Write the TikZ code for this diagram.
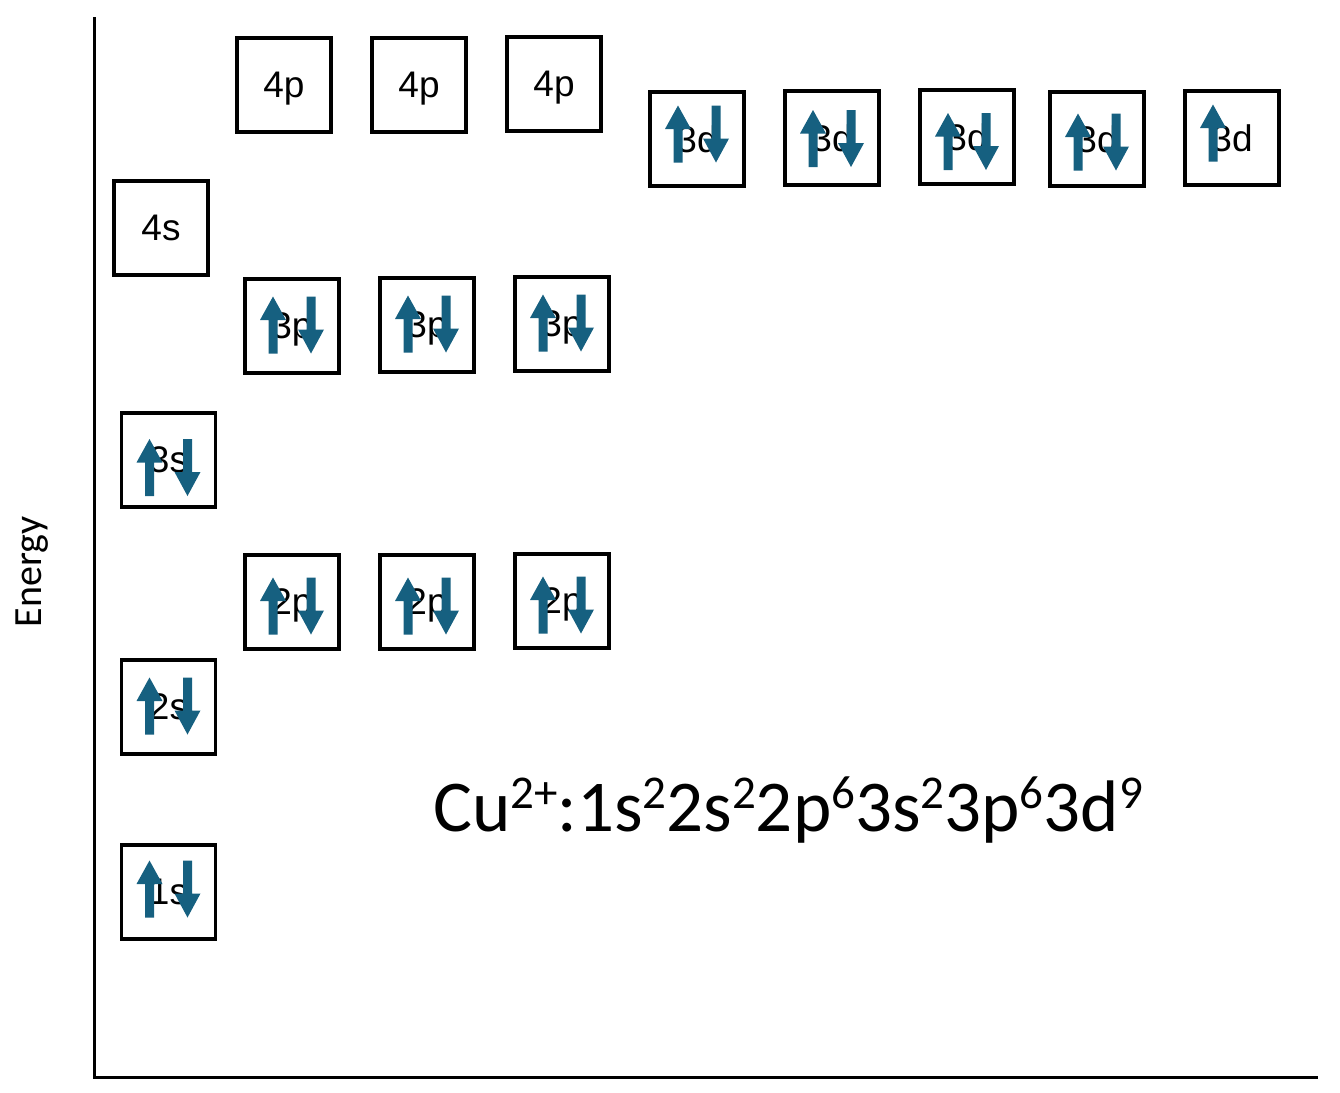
\documentclass[tikz,border=0pt]{standalone}
\usepackage{fontspec}
\setmainfont{Carlito}
\newfontfamily\boxfont{Liberation Sans}
\definecolor{spin}{RGB}{22,96,128}
\tikzset{
  orb/.style={draw, line width=3.2pt, minimum size=94pt, inner sep=0pt, text depth=0pt,
    font=\boxfont\fontsize{37}{39}\selectfont},
  axisline/.style={line width=3pt},
}
\newcommand\spinup[2]{\fill[spin, shift={(#1.center)}, shift={(0,#2)}]
  (-19,-28.5) -- (-6,-5) -- (-14.5,-5) -- (-14.5,28.5) -- (-23.5,28.5) -- (-23.5,-5) -- (-32,-5) -- cycle;}
\newcommand\spindown[2]{\fill[spin, shift={(#1.center)}, shift={(0,#2)}]
  (14.5,-28.5) -- (23.5,-28.5) -- (23.5,4.5) -- (32,4.5) -- (19,28.5) -- (6,4.5) -- (14.5,4.5) -- cycle;}
\newcommand\spinpair[2]{\spinup{#1}{#2}\spindown{#1}{#2}}
\newcommand\supr[1]{\raisebox{23pt}{\fontsize{47}{50}\selectfont #1}}
\begin{document}
\begin{tikzpicture}[x=1pt,y=-1pt]
\useasboundingbox (0,0) rectangle (1340,1092);
% axes
\coordinate (top) at (94,17);
\coordinate (origin) at (94,1077);
\coordinate (right) at (1318,1077);
\draw[axisline] (top) -- (origin) -- (right);
\node[rotate=90, font=\fontsize{40}{42}\selectfont, inner sep=0pt] (energy) at (32,572) {Energy};
% 4p
\node[orb] (p4a) at (284,85) {4p};
\node[orb] (p4b) at (419,85) {4p};
\node[orb] (p4c) at (554,84) {4p};
% 3d
\node[orb] (d1) at (697,139) {3d};
\node[orb] (d2) at (832,138) {3d};
\node[orb] (d3) at (967,137) {3d};
\node[orb] (d4) at (1097,139) {3d};
\node[orb] (d5) at (1232,138) {3d};
% 4s
\node[orb] (s4) at (161,228) {4s};
% 3p
\node[orb] (p3a) at (292,326) {3p};
\node[orb] (p3b) at (427,325) {3p};
\node[orb] (p3c) at (562,324) {3p};
% 3s
\node[orb] (s3) at (168.5,460) {3s};
% 2p
\node[orb] (p2a) at (292,602) {2p};
\node[orb] (p2b) at (427,602) {2p};
\node[orb] (p2c) at (562,601) {2p};
% 2s, 1s
\node[orb] (s2) at (168.5,707) {2s};
\node[orb] (s1) at (168.5,892) {1s};
% electrons
\spinpair{d1}{-5}
\spinpair{d2}{0.5}
\spinpair{d3}{4.5}
\spinpair{d4}{3}
\spinup{d5}{-5}
\spinpair{p3a}{-1}
\spinpair{p3b}{-1}
\spinpair{p3c}{-1}
\spinpair{s3}{7.5}
\spinpair{p2a}{4}
\spinpair{p2b}{4}
\spinpair{p2c}{4}
\spinpair{s2}{-1}
\spinpair{s1}{-3}
% configuration
\node[anchor=base west, inner sep=0pt, font=\fontsize{73}{80}\selectfont] (config) at (433,831)
  {Cu\supr{2+}:1s\supr{2}2s\supr{2}2p\supr{6}3s\supr{2}3p\supr{6}3d\supr{9}};
\end{tikzpicture}
\end{document}
